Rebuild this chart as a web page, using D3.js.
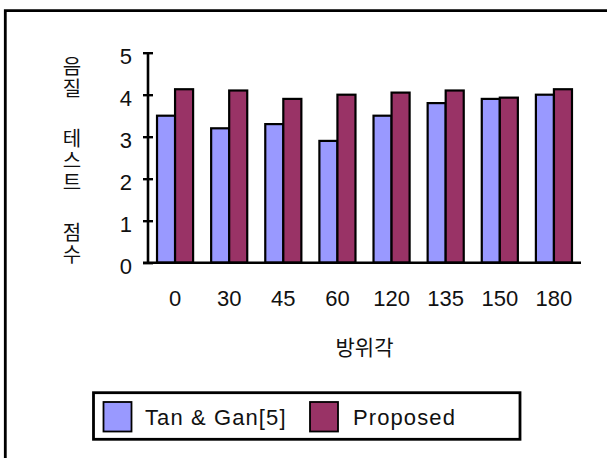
<!DOCTYPE html>
<html>
<head>
<meta charset="utf-8">
<script src="https://cdn.jsdelivr.net/npm/d3@7"></script>
<style>
  html, body { margin: 0; padding: 0; background: #fff; }
  svg { display: block; }
  .latin { font-family: "Liberation Sans", Arial, sans-serif; fill: #111; }
  .kr { font-family: "Noto Sans CJK KR", sans-serif; fill: #111; }
  .vertical { writing-mode: vertical-rl; text-orientation: upright; }
</style>
</head>
<body>
<svg id="chart" width="607" height="466"></svg>
<script>
// Azimuth angles (degrees) and listening-test scores
const angles = ["0", "30", "45", "60", "120", "135", "150", "180"];
const seriesNames = ["Tan & Gan[5]", "Proposed"];
const tanGan = [3.5, 3.2, 3.3, 2.9, 3.5, 3.8, 3.9, 4.0];
const proposed = [4.13, 4.1, 3.9, 4.0, 4.05, 4.1, 3.93, 4.13];
const yTicks = [0, 1, 2, 3, 4, 5];
const colors = ["#9999FF", "#993366"];
const yTitle = "음질 테스트 점수";
const xTitle = "방위각";

const svg = d3.select("#chart");

// outer frame (top and left edges)
svg.append("path")
  .attr("d", "M5.3,458 L5.3,10.7 L607,10.7")
  .attr("fill", "none").attr("stroke", "#000").attr("stroke-width", 2.8);

const plot = { left: 148, right: 581, top: 52.7, bottom: 262.7 };

const x0 = d3.scaleBand().domain(angles)
  .range([plot.left, plot.right])
  .paddingInner(1 / 3).paddingOuter(1 / 6);
const x1 = d3.scaleBand().domain(seriesNames).range([0, x0.bandwidth()]).padding(0);
const y = d3.scaleLinear().domain([0, 5]).range([plot.bottom, plot.top]);

const rows = angles.map((a, i) => ({ angle: a, values: [tanGan[i], proposed[i]] }));

// bars
const groups = svg.append("g").selectAll("g").data(rows).join("g")
  .attr("transform", d => `translate(${x0(d.angle)},0)`);
groups.selectAll("rect")
  .data(d => d.values.map((v, k) => ({ name: seriesNames[k], v, k })))
  .join("rect")
  .attr("x", d => x1(d.name))
  .attr("y", d => y(d.v))
  .attr("width", x1.bandwidth())
  .attr("height", d => y(0) - y(d.v))
  .attr("fill", d => colors[d.k])
  .attr("stroke", "#000").attr("stroke-width", 2.2);

// y axis
const yAxis = svg.append("g")
  .attr("transform", `translate(${plot.left},0)`)
  .call(d3.axisLeft(y).tickValues(yTicks).tickFormat(d3.format("d")).tickSize(5).tickPadding(11));
yAxis.select(".domain").remove();
yAxis.selectAll(".tick line").attr("x1", -5).attr("x2", 5).attr("stroke", "#000").attr("stroke-width", 2.4);
yAxis.selectAll(".tick text").attr("class", "latin").attr("font-size", 22).attr("dy", "0.48em").style("font-family", null);
yAxis.append("line").attr("x1", 0).attr("x2", 0).attr("y1", y(5)).attr("y2", y(0))
  .attr("stroke", "#000").attr("stroke-width", 2.6);

// x axis
const xAxis = svg.append("g")
  .attr("transform", `translate(0,${plot.bottom})`)
  .call(d3.axisBottom(x0).tickSize(0).tickPadding(0));
xAxis.select(".domain").remove();
xAxis.selectAll(".tick text").attr("class", "latin").attr("font-size", 22)
  .attr("y", 43.5).attr("dy", null).style("font-family", null);
xAxis.append("line").attr("x1", plot.left - 5).attr("x2", plot.right).attr("y1", 0).attr("y2", 0)
  .attr("stroke", "#000").attr("stroke-width", 2.6);

// axis titles
svg.append("text").attr("class", "kr").attr("font-size", 21)
  .attr("x", (plot.left + plot.right) / 2).attr("y", 354.5)
  .attr("text-anchor", "middle").text(xTitle);

// vertical title, characters stacked upright
svg.append("text").attr("class", "kr vertical").attr("font-size", 20)
  .attr("x", 72).attr("y", 56)
  .attr("letter-spacing", 2).attr("word-spacing", 6)
  .text(yTitle);

// legend
const lg = svg.append("g");
lg.append("rect").attr("x", 93.5).attr("y", 392.7).attr("width", 426.5).attr("height", 46.6)
  .attr("fill", "#fff").attr("stroke", "#000").attr("stroke-width", 2.8);
const legendItems = [
  { swatch: 103.5, text: 145 },
  { swatch: 310, text: 353 }
];
seriesNames.forEach((name, k) => {
  lg.append("rect").attr("x", legendItems[k].swatch).attr("y", 402).attr("width", 28).attr("height", 29.5)
    .attr("fill", colors[k]).attr("stroke", "#000").attr("stroke-width", 1.8);
  lg.append("text").attr("class", "latin").attr("font-size", 22).attr("letter-spacing", 1.1)
    .attr("x", legendItems[k].text).attr("y", 425).text(name);
});
</script>
</body>
</html>
